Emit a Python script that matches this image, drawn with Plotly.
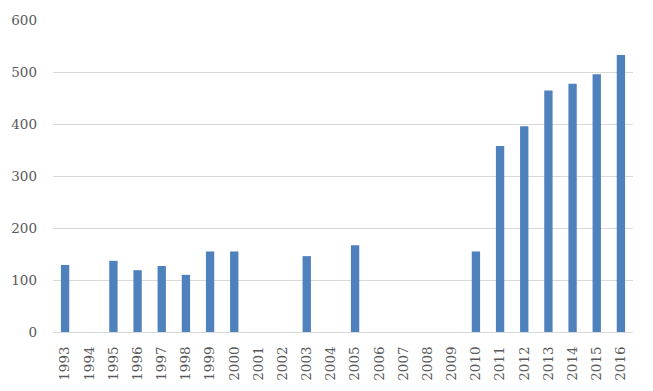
import plotly.graph_objects as go

years = [str(y) for y in range(1993, 2017)]
values = [129, None, 137, 119, 127, 110, 155, 155, None, None, 146, None,
          167, None, None, None, None, 155, 358, 396, 465, 478, 496, 533]
y_ticks = [0, 100, 200, 300, 400, 500, 600]

font = dict(family="DejaVu Serif", size=13.5, color="#595959")

# page body has an 8px margin, so the figure is offset by 8px
fig = go.Figure(go.Bar(x=years, y=values, marker=dict(color="#4f81bd", line=dict(width=0))))
fig.update_layout(
    width=645, height=383,
    margin=dict(l=45, r=20, t=12, b=59),
    paper_bgcolor="white", plot_bgcolor="white",
    bargap=0.655, showlegend=False, font=font,
)
fig.update_xaxes(type="category", tickangle=-90, showgrid=False, automargin=False,
                 showline=True, linecolor="#d9d9d9", linewidth=1,
                 ticks="", ticklabelstandoff=8, tickfont=font)
fig.update_yaxes(range=[0, 600.5], tickvals=y_ticks, showgrid=True, automargin=False,
                 gridcolor="#d9d9d9", gridwidth=1, zeroline=False,
                 ticks="", ticklabelstandoff=15, tickfont=font)
fig.write_html("out.html")
